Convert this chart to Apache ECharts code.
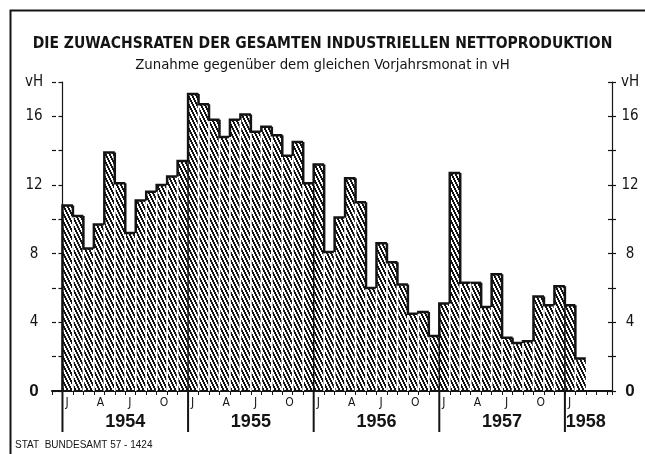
<!DOCTYPE html>
<html>
<head>
<meta charset="utf-8">
<script src="https://cdn.jsdelivr.net/npm/echarts@6/dist/echarts.min.js"></script>
<style>
  html, body { margin: 0; padding: 0; background: #fff; }
  #chart { width: 645px; height: 454px; }
</style>
</head>
<body>
<div id="chart"></div>
<script>
// growth vs. same month of previous year, in vH (percent)
const growth1954 = [10.8, 10.2, 8.3, 9.7, 13.9, 12.1, 9.2, 11.1, 11.6, 12.0, 12.5, 13.4]
const growth1955 = [17.3, 16.7, 15.8, 14.8, 15.8, 16.1, 15.1, 15.4, 14.9, 13.7, 14.5, 12.1]
const growth1956 = [13.2, 8.1, 10.1, 12.4, 11.0, 6.0, 8.6, 7.5, 6.2, 4.5, 4.6, 3.2]
const growth1957 = [5.1, 12.7, 6.3, 6.3, 4.9, 6.8, 3.1, 2.8, 2.9, 5.5, 5.0, 6.1]
const growth1958 = [5.0, 1.9]

const values = [].concat(growth1954, growth1955, growth1956, growth1957, growth1958)

const monthLetters = ['J', 'A', 'J', 'O']   // Jan, Apr, Jul, Oct
const yearLabels = ['1954', '1955', '1956', '1957', '1958']
const yearStart = [0, 12, 24, 36, 48]
const yearEnd = [12, 24, 36, 48, 52]
const yTicks = [0, 4, 8, 12, 16]

const INK = '#141414'
const FONT = '"DejaVu Sans Condensed", "Liberation Sans", sans-serif'

// diagonal hatching used for the bars
const hatch = document.createElement('canvas')
hatch.width = 4
hatch.height = 8
const hctx = hatch.getContext('2d')
hctx.fillStyle = INK
for (let y = 0; y < 8; y++) {
  const x = Math.floor(y / 2)
  hctx.fillRect(x, y, 2, 1)
  if (x + 2 > 4) hctx.fillRect(x - 4, y, 2, 1)
}

const chart = echarts.init(document.getElementById('chart'))

const yLabel = v => {
  if (v === 18) return 'vH'
  if (v === 0) return '{z|0}'
  return yTicks.includes(v) ? String(v) : ''
}

const yAxisBase = {
  type: 'value',
  min: 0,
  max: 18,
  interval: 2,
  splitLine: { show: false },
  axisLine: { show: true, lineStyle: { color: INK, width: 1.2 } },
  axisTick: { show: true, length: 4, lineStyle: { color: INK, width: 1.2 } },
  axisLabel: {
    show: true,
    color: INK,
    fontFamily: FONT,
    fontSize: 15,
    align: 'center',
    margin: 18,
    showMinLabel: true,
    showMaxLabel: true,
    formatter: yLabel,
    rich: { z: { fontFamily: '"Liberation Sans", sans-serif', fontWeight: 'bold', fontSize: 17, color: INK } }
  }
}

const innerTicks = {
  type: 'value',
  min: 0,
  max: 18,
  interval: 2,
  splitLine: { show: false },
  axisLine: { show: false },
  axisLabel: { show: false },
  axisTick: { show: true, inside: true, length: 4, lineStyle: { color: INK, width: 1.2 } }
}

chart.setOption({
  backgroundColor: '#fff',
  animation: false,
  title: {
    left: 'center',
    top: 36,
    padding: 0,
    itemGap: 6,
    text: 'DIE ZUWACHSRATEN DER GESAMTEN INDUSTRIELLEN NETTOPRODUKTION',
    subtext: 'Zunahme gegenüber dem gleichen Vorjahrsmonat in vH',
    textStyle: { color: INK, fontFamily: FONT, fontWeight: 'bold', fontSize: 15.5 },
    subtextStyle: { color: INK, fontFamily: FONT, fontSize: 14.8 }
  },
  grid: { left: 52, right: 33, top: 82, bottom: 63, outerBoundsMode: 'none' },
  xAxis: {
    type: 'value',
    min: -1,
    max: 52.5,
    interval: 1,
    splitLine: { show: false },
    axisLine: { lineStyle: { color: INK, width: 2 } },
    axisTick: { length: 4, lineStyle: { color: INK, width: 1 } },
    axisLabel: {
      color: INK,
      fontFamily: FONT,
      fontSize: 12,
      align: 'left',
      padding: [0, 0, 0, 3],
      margin: 6,
      formatter: m => (m >= 0 && m <= 48 && m % 3 === 0) ? monthLetters[(m % 12) / 3] : ''
    }
  },
  yAxis: [
    Object.assign({}, yAxisBase, { position: 'left' }),
    Object.assign({}, yAxisBase, { position: 'right' }),
    Object.assign({}, innerTicks, { position: 'left' }),
    Object.assign({}, innerTicks, { position: 'right' })
  ],
  graphic: [
    {
      type: 'polyline',
      shape: { points: [[10.5, 454], [10.5, 10.5], [645, 10.5]] },
      style: { fill: null, stroke: INK, lineWidth: 2 }
    },
    {
      type: 'text',
      left: 15,
      top: 440,
      style: { text: 'STAT  BUNDESAMT 57 - 1424', fill: INK, font: '10px "Liberation Sans", sans-serif' }
    }
  ],
  series: [
    {
      name: 'Zuwachsrate',
      type: 'custom',
      silent: true,
      clip: false,
      data: values.map((v, i) => [i, v]),
      renderItem: (params, api) => {
        const i = api.value(0)
        const v = api.value(1)
        const prev = i > 0 ? values[i - 1] : 0
        const bl = api.coord([i, 0])
        const tr = api.coord([i + 1, v])
        const pp = api.coord([i, prev])
        const lowTop = Math.max(tr[1], pp[1])
        const isJan = i % 12 === 0
        return {
          type: 'group',
          children: [
            {
              type: 'rect',
              shape: { x: bl[0], y: tr[1], width: tr[0] - bl[0], height: bl[1] - tr[1] },
              style: { fill: { image: hatch, repeat: 'repeat' } }
            },
            {
              type: 'line',
              shape: { x1: bl[0], y1: bl[1], x2: bl[0], y2: lowTop },
              style: { stroke: isJan ? INK : '#fff', lineWidth: isJan ? 1.5 : 1.6 }
            },
            {
              type: 'polyline',
              shape: { points: [[bl[0], pp[1]], [bl[0], tr[1]], [tr[0], tr[1]]] },
              style: { fill: null, stroke: INK, lineWidth: 2.5, lineJoin: 'miter' }
            }
          ]
        }
      }
    },
    {
      name: 'Jahre',
      type: 'custom',
      silent: true,
      clip: false,
      data: yearStart.map((s, k) => [s, yearEnd[k]]),
      renderItem: (params, api) => {
        const s = api.value(0)
        const e = api.value(1)
        const a = api.coord([s, 0])
        const b = api.coord([e, 0])
        return {
          type: 'group',
          children: [
            {
              type: 'line',
              shape: { x1: a[0], y1: a[1], x2: a[0], y2: a[1] + 41 },
              style: { stroke: INK, lineWidth: 2 }
            },
            {
              type: 'text',
              x: (a[0] + b[0]) / 2,
              y: a[1] + 31,
              style: {
                text: yearLabels[params.dataIndex],
                font: 'bold 18px "Liberation Sans", sans-serif',
                fill: INK,
                align: 'center',
                textAlign: 'center',
                verticalAlign: 'middle',
                textVerticalAlign: 'middle'
              }
            }
          ]
        }
      }
    }
  ]
})

window.addEventListener('resize', () => chart.resize())
</script>
</body>
</html>
